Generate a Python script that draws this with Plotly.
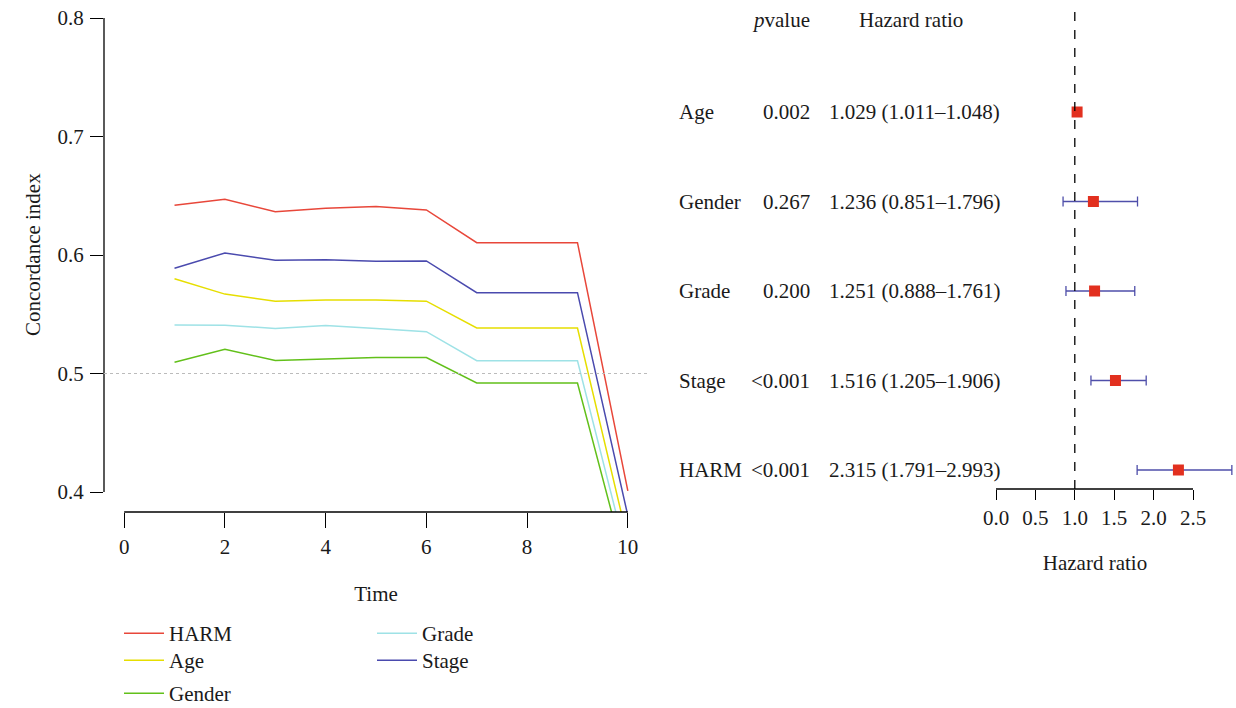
import plotly.graph_objects as go

W, H = 1236, 708
FONT = "Liberation Serif"
FS = 21

# ---------------- data: time-dependent C-index ----------------
time = [1, 2, 3, 4, 5, 6, 7, 8, 9, 10]
cindex = {
    "HARM":   [0.642, 0.647, 0.6365, 0.6395, 0.641, 0.638, 0.6104, 0.6104, 0.6104, 0.401],
    "Age":    [0.580, 0.567, 0.561, 0.562, 0.562, 0.561, 0.5384, 0.5384, 0.5384, 0.359],
    "Gender": [0.5095, 0.5205, 0.511, 0.512, 0.5136, 0.5134, 0.492, 0.492, 0.492, 0.331],
    "Grade":  [0.541, 0.5407, 0.538, 0.5404, 0.538, 0.5353, 0.5108, 0.5108, 0.5108, 0.343],
    "Stage":  [0.5888, 0.6017, 0.5955, 0.596, 0.5947, 0.595, 0.5682, 0.5682, 0.5682, 0.380],
}
line_colors = {
    "HARM": "#E8473A",
    "Age": "#E6DE00",
    "Gender": "#62C01A",
    "Grade": "#9EE2E6",
    "Stage": "#4A4AAE",
}
legend_of = {"HARM": "legend", "Age": "legend2", "Gender": "legend3",
             "Grade": "legend4", "Stage": "legend5"}
c_ticks = [0.4, 0.5, 0.6, 0.7, 0.8]
t_ticks = [0, 2, 4, 6, 8, 10]

# ---------------- data: forest plot ----------------
variables = ["Age", "Gender", "Grade", "Stage", "HARM"]
pvalues = ["0.002", "0.267", "0.200", "<0.001", "<0.001"]
hr = [1.029, 1.236, 1.251, 1.516, 2.315]
hr_low = [1.011, 0.851, 0.888, 1.205, 1.791]
hr_high = [1.048, 1.796, 1.761, 1.906, 2.993]
hr_ticks = [0.0, 0.5, 1.0, 1.5, 2.0, 2.5]
rows = list(range(len(variables)))

fig = go.Figure()

for name, vals in cindex.items():
    fig.add_trace(go.Scatter(
        x=time, y=vals, mode="lines", name=name,
        line=dict(color=line_colors[name], width=1.5),
        legend=legend_of[name], xaxis="x", yaxis="y",
        cliponaxis=True,
    ))

fig.add_trace(go.Scatter(
    x=hr, y=rows, mode="markers", showlegend=False,
    marker=dict(symbol="square", size=11, color="#E2301F", line=dict(width=0)),
    error_x=dict(type="data", symmetric=False,
                 array=[h - m for h, m in zip(hr_high, hr)],
                 arrayminus=[m - l for m, l in zip(hr, hr_low)],
                 color="#4F4FAA", thickness=1.3, width=5),
    xaxis="x2", yaxis="y2",
))

def px(x):
    return x / W

def py(y):
    return 1 - y / H

tickfont = dict(family=FONT, size=FS, color="#1a1a1a")
legfont = dict(family=FONT, size=FS, color="#1a1a1a")

def legend_at(x, y):
    return dict(x=px(x), y=py(y), xanchor="left", yanchor="top",
                xref="container", yref="container",
                bgcolor="rgba(0,0,0,0)", borderwidth=0, tracegroupgap=0,
                font=legfont, itemwidth=40)

fig.update_layout(
    width=W, height=H,
    margin=dict(l=0, r=0, t=0, b=0, autoexpand=False),
    paper_bgcolor="white", plot_bgcolor="rgba(0,0,0,0)",
    font=dict(family=FONT, size=FS, color="#1a1a1a"),
    xaxis=dict(domain=[px(104), px(648)], range=[-0.4, 10.4],
               tickvals=t_ticks, ticks="outside", ticklen=15, tickwidth=1.3,
               tickcolor="black", showgrid=False, zeroline=False, showline=False,
               tickfont=tickfont, ticklabelstandoff=1,
               title=dict(text="Time", font=dict(family=FONT, size=FS), standoff=28),
               anchor="y"),
    yaxis=dict(domain=[py(512), 1], range=[0.38312, 0.81519],
               tickvals=c_ticks, ticks="outside", ticklen=13, tickwidth=1.3,
               tickcolor="black", showgrid=False, zeroline=False, showline=False,
               tickfont=tickfont, ticklabelstandoff=2,
               anchor="x"),
    xaxis2=dict(domain=[px(956), px(1234)], range=[(956 - 996) / 78.8, (1234 - 996) / 78.8],
                tickvals=hr_ticks, ticktext=[f"{v:.1f}" for v in hr_ticks],
                ticks="outside", ticklen=10, tickwidth=1.3, tickangle=0,
                tickcolor="black", showgrid=False, zeroline=False, showline=False,
                tickfont=tickfont, ticklabelstandoff=0,
                title=dict(text="Hazard ratio", font=dict(family=FONT, size=FS), standoff=26),
                anchor="y2"),
    yaxis2=dict(domain=[py(489), py(5)], range=[(489 - 112) / 89.5, (5 - 112) / 89.5],
                showticklabels=False, ticks="", showgrid=False, zeroline=False,
                showline=False, anchor="x2"),
    legend=legend_at(119, 613),
    legend2=legend_at(119, 640),
    legend3=legend_at(119, 673),
    legend4=legend_at(372, 613),
    legend5=legend_at(372, 640),
)

shapes = [
    # left y axis line (0.4 - 0.8)
    dict(type="line", xref="x domain", yref="y", x0=0, x1=0, y0=c_ticks[0], y1=c_ticks[-1],
         line=dict(color="black", width=1.3)),
    # left x axis line (0 - 10)
    dict(type="line", xref="x", yref="y domain", x0=t_ticks[0], x1=t_ticks[-1], y0=0, y1=0,
         line=dict(color="black", width=1.3)),
    # reference line at 0.5
    dict(type="line", xref="x domain", yref="y", x0=0, x1=1, y0=0.5, y1=0.5,
         line=dict(color="#BBBBBB", width=1.2, dash="dot")),
    # forest x axis line
    dict(type="line", xref="x2", yref="y2 domain", x0=hr_ticks[0], x1=hr_ticks[-1], y0=0, y1=0,
         line=dict(color="black", width=1.3)),
    # HR = 1 reference
    dict(type="line", xref="x2", yref="y2 domain", x0=1, x1=1, y0=0, y1=1,
         line=dict(color="black", width=1.3, dash="dash")),
]
fig.update_layout(shapes=shapes)

ann = []
# y-axis title of the C-index panel, centred on the axis span
ann.append(dict(text="Concordance index", textangle=-90, x=px(33), y=(c_ticks[0] + c_ticks[-1]) / 2,
                xref="paper", yref="y", xanchor="center", yanchor="middle", showarrow=False))
ann.append(dict(text="<i>p</i>value", x=px(812), y=-1.03, xref="paper", yref="y2",
                xanchor="right", yanchor="middle", showarrow=False))
ann.append(dict(text="Hazard ratio", x=px(911), y=-1.03, xref="paper", yref="y2",
                xanchor="center", yanchor="middle", showarrow=False))
for i, (v, p, h, lo, hi) in enumerate(zip(variables, pvalues, hr, hr_low, hr_high)):
    ann.append(dict(text=v, x=px(677), y=i, xref="paper", yref="y2",
                    xanchor="left", yanchor="middle", showarrow=False))
    ann.append(dict(text=p, x=px(812), y=i, xref="paper", yref="y2",
                    xanchor="right", yanchor="middle", showarrow=False))
    ann.append(dict(text=f"{h:.3f} ({lo:.3f}\u2013{hi:.3f})", x=px(827), y=i,
                    xref="paper", yref="y2", xanchor="left", yanchor="middle",
                    showarrow=False))
fig.update_layout(annotations=ann)

fig.write_html("out.html")
